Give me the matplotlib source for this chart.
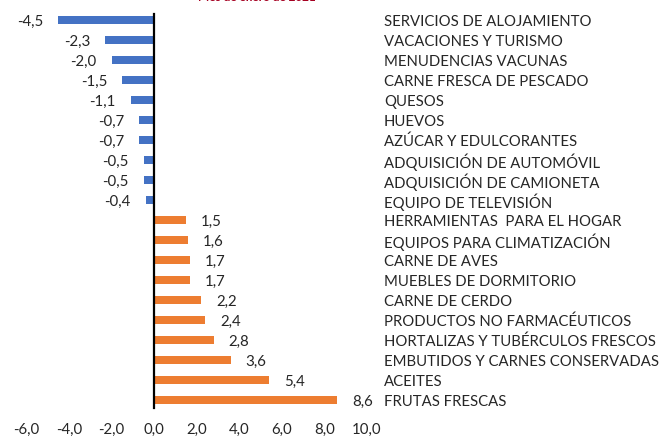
import matplotlib.pyplot as plt

categorias = [
    "SERVICIOS DE ALOJAMIENTO", "VACACIONES Y TURISMO", "MENUDENCIAS VACUNAS",
    "CARNE FRESCA DE PESCADO", "QUESOS", "HUEVOS", "AZÚCAR Y EDULCORANTES",
    "ADQUISICIÓN DE AUTOMÓVIL", "ADQUISICIÓN DE CAMIONETA", "EQUIPO DE TELEVISIÓN",
    "HERRAMIENTAS  PARA EL HOGAR", "EQUIPOS PARA CLIMATIZACIÓN", "CARNE DE AVES",
    "MUEBLES DE DORMITORIO", "CARNE DE CERDO", "PRODUCTOS NO FARMACÉUTICOS",
    "HORTALIZAS Y TUBÉRCULOS FRESCOS", "EMBUTIDOS Y CARNES CONSERVADAS",
    "ACEITES", "FRUTAS FRESCAS",
]
valores = [-4.5, -2.3, -2.0, -1.5, -1.1, -0.7, -0.7, -0.5, -0.5, -0.4,
           1.5, 1.6, 1.7, 1.7, 2.2, 2.4, 2.8, 3.6, 5.4, 8.6]
xticks = [-6, -4, -2, 0, 2, 4, 6, 8, 10]
titulo = "Mes de enero de 2021"

plt.rcParams['font.family'] = ['Lato', 'DejaVu Sans']
txt = "#262626"

fig = plt.figure(figsize=(6.7, 4.38), dpi=100)
ax = fig.add_axes([26.5 / 670, 28 / 438, (367 - 26.5) / 670, 400 / 438])

y = list(range(len(valores)))
colores = ["#4472C4" if v < 0 else "#ED7D31" for v in valores]
ax.barh(y, valores, height=0.36, color=colores, zorder=2)
ax.axvline(0, color="black", lw=1.6, ymin=0.005, ymax=0.99, zorder=3)

for yi, v, c in zip(y, valores, categorias):
    lab = f"{v:.1f}".replace(".", ",")
    if v < 0:
        ax.text(v - 0.7, yi + 0.1, lab, ha="right", va="center", fontsize=10.8, color=txt)
    else:
        ax.text(v + 0.7, yi + 0.1, lab, ha="left", va="center", fontsize=10.8, color=txt)
    ax.text(10.8, yi + 0.1, c, ha="left", va="center", fontsize=10.7, color=txt, clip_on=False)

ax.set_xlim(-6, 10)
ax.set_ylim(len(valores) - 0.5, -0.5)
ax.set_xticks(xticks)
ax.set_xticklabels([f"{t:.1f}".replace(".", ",") for t in xticks], fontsize=10.8, color=txt)
ax.set_yticks([])
ax.tick_params(axis="x", length=0, pad=9)
for s in ax.spines.values():
    s.set_visible(False)

fig.text(257 / 670, 1.006, titulo, ha="center", va="center", fontsize=8.5,
         fontweight="bold", color="#A50021")

fig.savefig("out.png", dpi=100)
